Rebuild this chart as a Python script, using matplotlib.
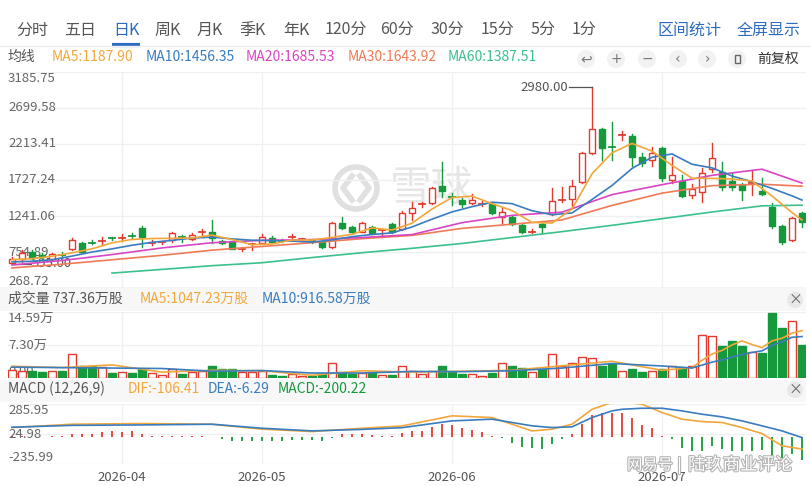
import numpy as np
import matplotlib
matplotlib.use("Agg")
import matplotlib.pyplot as plt
from matplotlib.patches import Rectangle, Circle
import matplotlib.patheffects as pe

plt.rcParams['font.family'] = ['Noto Sans CJK SC', 'DejaVu Sans']

# ---- daily candles ----
opens = [605, 656, 759, 720, 656, 720, 791, 880, 885, 895,
         945, 940, 970, 1083, 870, 880, 917, 968, 926, 1015,
         1029, 903, 903, 785, 855, 880, 948, 910, 955, 920,
         910, 890, 826, 1142, 1097, 1029, 1097, 1045, 1133, 1065,
         1286, 1400, 1421, 1646, 1500, 1457, 1412, 1400, 1403, 1231,
         1231, 1120, 1025, 1133, 1268, 1450, 1467, 1704, 2096, 2412,
         2180, 2325, 2321, 2034, 1997, 2155, 1727, 1718, 1524, 1569,
         1872, 1839, 1718, 1660, 1680, 1583, 1367, 1106, 917, 1286]
closes = [655, 745, 670, 690, 727, 712, 917, 759, 875, 906,
          935, 950, 960, 961, 880, 890, 1007, 958, 984, 1025,
          940, 872, 799, 795, 866, 961, 894, 900, 965, 930,
          898, 826, 1142, 1075, 1029, 1142, 1007, 1055, 1029, 1277,
          1345, 1410, 1615, 1583, 1493, 1403, 1457, 1410, 1277, 1299,
          1133, 1029, 1033, 1088, 1448, 1460, 1646, 2088, 2412, 2155,
          2168, 2335, 2034, 1953, 2096, 1750, 1795, 1511, 1601, 1817,
          2020, 1637, 1629, 1592, 1690, 1538, 1106, 894, 1210, 1164]
highs = [690, 782, 782, 740, 745, 759, 940, 895, 917, 952,
         961, 998, 1007, 1106, 917, 905, 1029, 984, 1015, 1061,
         1187, 915, 910, 826, 880, 998, 965, 925, 998, 950,
         925, 900, 1155, 1223, 1110, 1164, 1110, 1070, 1145, 1308,
         1430, 1434, 1637, 1974, 1548, 1480, 1538, 1447, 1415, 1345,
         1245, 1135, 1061, 1164, 1615, 1637, 1727, 2100, 2980, 2425,
         2515, 2393, 2345, 2088, 2169, 2170, 2042, 1795, 1673, 1885,
         2223, 1974, 1817, 1680, 1862, 1750, 1412, 1120, 1225, 1300]
lows = [595, 625, 656, 665, 637, 670, 782, 750, 863, 849,
        917, 907, 940, 826, 845, 865, 894, 894, 917, 961,
        872, 860, 790, 772, 782, 870, 885, 885, 940, 905,
        880, 815, 815, 1065, 1015, 1021, 995, 961, 1010, 1050,
        1187, 1367, 1403, 1502, 1390, 1358, 1400, 1376, 1265, 1151,
        1120, 1007, 1015, 1015, 1255, 1434, 1345, 1690, 2080, 2000,
        1997, 2267, 1916, 1916, 1916, 1718, 1690, 1493, 1480, 1434,
        1839, 1592, 1592, 1457, 1524, 1524, 1075, 863, 905, 1097]

# volume, in 万
volumes = [1.7, 1.45, 1.45, 1.35, 1.45, 1.45, 5.4, 2.7, 2.7, 2.5,
           1.2, 1.35, 1.2, 1.9, 1.2, 0.75, 1.9, 0.95, 1.35, 1.45,
           2.7, 1.9, 2.1, 1.35, 1.35, 1.45, 0.6, 0.45, 0.95, 0.45,
           0.45, 0.95, 3.4, 1.35, 0.95, 1.2, 1.35, 0.6, 0.6, 2.7,
           1.45, 0.95, 1.45, 2.7, 1.35, 0.95, 0.9, 0.45, 1.2, 3.3,
           2.7, 2.3, 1.35, 2.1, 5.3, 2.6, 3.4, 4.7, 4.5, 2.7,
           3.0, 1.45, 1.9, 1.35, 1.45, 2.1, 2.7, 2.5, 2.6, 9.4,
           9.2, 7.0, 8.2, 7.0, 5.8, 5.6, 14.4, 11.0, 12.6, 7.3736]

macd_hist = [5, 5, 3, 2, 5, 10, 23, 29, 29, 46,
             52, 46, 52, 29, 9, 6, 9, 6, 9, 9,
             3, -20, -35, -35, -40, -35, -35, -35, -29, -29,
             -29, -40, -10, 23, 23, 23, 17, 9, 6, 38,
             52, 52, 87, 116, 104, 75, 58, 43, 9, -6,
             -49, -84, -99, -107, -58, -20, 23, 110, 191, 209,
             209, 209, 168, 104, 81, 9, -20, -93, -122, -122,
             -78, -107, -122, -122, -122, -116, -180, -180, -151, -200.22]

# ---- moving averages read at sample candles ----
ma_fast_idx = list(range(0, 80, 2)) + [79]
ma5 = [650, 665, 697, 743, 798, 878, 925, 937, 940, 944,
       983, 924, 854, 863, 917, 917, 952, 994, 1079, 1052,
       1143, 1335, 1489, 1510, 1408, 1315, 1154, 1146, 1335, 1811,
       2094, 2221, 2117, 1926, 1751, 1749, 1741, 1714, 1511, 1288, 1187.90]
ma10 = [620, 630, 650, 700, 755, 797, 846, 886, 912, 943,
        956, 932, 914, 909, 902, 888, 918, 962, 991, 1013,
        1093, 1198, 1296, 1367, 1427, 1408, 1312, 1258, 1282, 1464,
        1653, 1883, 2035, 2079, 1940, 1891, 1781, 1704, 1614, 1513, 1456.35]

ma_slow_idx = list(range(0, 80, 5)) + [79]
ma20 = [580, 640, 720, 810, 880, 912, 922, 950, 990, 1151,
        1250, 1293, 1530, 1664, 1790, 1873, 1685.53]
ma30 = [540, 590, 650, 710, 780, 830, 880, 935, 979, 1074,
        1130, 1188, 1384, 1550, 1651, 1670, 1643.92]
ma60 = [np.nan, np.nan, 470, 520, 570, 610, 680, 745, 805, 870,
        950, 1030, 1115, 1205, 1295, 1378, 1387.51]

vol_ma_idx = [0, 5, 10, 15, 20, 25, 30, 35, 40, 45, 50, 55, 60, 65,
              68, 69, 70, 71, 72, 73, 74, 75, 76, 77, 78, 79]
vol_ma5 = [2.6, 2.3, 2.9, 1.3, 1.7, 1.6, 0.6, 1.6, 1.3, 1.5, 1.7, 2.7, 3.7, 1.7,
           2.3, 3.9, 5.3, 6.1, 7.3, 8.2, 7.4, 6.7, 8.2, 8.8, 9.9, 10.4723]
vol_ma10 = [2.4, 2.3, 2.2, 2.1, 1.5, 1.65, 1.1, 1.1, 1.45, 1.4, 1.6, 2.2, 3.2, 2.66,
            2.2, 2.85, 3.5, 4.0, 4.65, 5.2, 5.65, 6.0, 7.2, 8.0, 9.0, 9.1658]

macd_idx = [0, 6, 13, 20, 25, 30, 35, 39, 44, 48, 52, 54, 56, 58, 60, 61,
            63, 65, 67, 69, 71, 73, 75, 77, 79]
dif = [81, 110, 116, 110, 67, 46, 75, 95, 183, 168, 52, 67, 110, 240, 299, 307,
       284, 212, 154, 133, 125, 81, 29, -78, -106.41]
dea = [84, 100, 104, 110, 75, 52, 65, 80, 139, 154, 96, 81, 87, 168, 226, 240,
       249, 249, 226, 197, 174, 139, 96, 52, -6.29]

price_ticks = [3185.75, 2699.58, 2213.41, 1727.24, 1241.06, 754.89, 268.72]
vol_ticks = [14.59, 7.30, 0.00]
macd_ticks = [285.95, 24.98, -235.99]
date_idx = [11, 25, 44, 65]
date_labels = ['2026-04', '2026-05', '2026-06', '2026-07']

tabs = ['分时', '五日', '日K', '周K', '月K', '季K', '年K', '120分', '60分', '30分', '15分', '5分', '1分']

RED = '#e23a2e'
GREEN = '#16983c'
C_MA5 = '#f2a73b'
C_MA10 = '#3a7cc0'
C_MA20 = '#d846c4'
C_MA30 = '#f07a56'
C_MA60 = '#3cc08e'
GRID = '#f0f0f0'
LBL = '#666666'

opens = np.array(opens, float)
closes = np.array(closes, float)
highs = np.array(highs, float)
lows = np.array(lows, float)
n = len(closes)
up = closes >= opens

W, H = 811, 486
fig = plt.figure(figsize=(W / 100, H / 100), dpi=100)

bg = fig.add_axes([0, 0, 1, 1])
bg.set_xlim(0, W)
bg.set_ylim(H, 0)
bg.axis('off')
bg.set_zorder(-1)


def panel(y0, y1, x0=8, x1=806):
    ax = fig.add_axes([x0 / W, 1 - y1 / H, (x1 - x0) / W, (y1 - y0) / H])
    ax.set_facecolor('none')
    for s in ax.spines.values():
        s.set_visible(False)
    ax.set_xticks([])
    ax.set_yticks([])
    ax.set_xlim(-0.4, n - 0.6)
    return ax


def ylabels(ax, ticks, fmt):
    tr = ax.get_yaxis_transform()
    for k, v in enumerate(ticks):
        va = 'top' if k == 0 else ('bottom' if k == len(ticks) - 1 else 'center')
        ax.text(0, v, fmt(v), transform=tr, ha='left', va=va, fontsize=9.5,
                color=LBL, zorder=1)
        ax.axhline(v, color=GRID, lw=1, zorder=0)
    for d in date_idx:
        ax.axvline(d, color=GRID, lw=1, zorder=0)


# ---- top tabs ----
tab_x = [32, 80, 126, 168, 210, 253, 296, 346, 397, 447, 498, 543, 584]
for t, x in zip(tabs, tab_x):
    bg.text(x, 30, t, ha='center', va='center', fontsize=11.5,
            color='#2d6bc0' if t == '日K' else '#555555')
bg.plot([112, 140], [45, 45], color='#2d6bc0', lw=3, solid_capstyle='butt')
bg.text(689, 30, '区间统计', ha='center', va='center', fontsize=11.5, color='#2d6bc0')
bg.text(769, 30, '全屏显示', ha='center', va='center', fontsize=11.5, color='#2d6bc0')
bg.plot([0, W], [46.5, 46.5], color='#eeeeee', lw=1)

# ---- MA legend row ----
bg.text(8, 57, '均线', ha='left', va='center', fontsize=10, color='#555555')
for x, s, c in [(52, f'MA5:{ma5[-1]:.2f}', C_MA5), (146, f'MA10:{ma10[-1]:.2f}', C_MA10),
                (246, f'MA20:{ma20[-1]:.2f}', C_MA20), (348, f'MA30:{ma30[-1]:.2f}', C_MA30),
                (448, f'MA60:{ma60[-1]:.2f}', C_MA60)]:
    bg.text(x, 57, s, ha='left', va='center', fontsize=10, color=c)
for x, g in zip([586, 616, 647, 678, 707, 737], ['↩', '+', '−', '‹', '›', '']):
    bg.add_patch(Circle((x, 59), 9, color='#f2f2f2', lw=0))
    if g:
        bg.text(x, 59, g, ha='center', va='center', fontsize=10, color='#777777',
                family='DejaVu Sans')
bg.add_patch(Rectangle((734.5, 55), 5, 8, fill=False, ec='#666666', lw=1))
bg.plot([737, 737], [52, 66], color='#666666', lw=1, zorder=0)
bg.text(757, 59, '前复权', ha='left', va='center', fontsize=10, color='#333333')

# ---- watermark ----
bg.add_patch(Circle((356, 188), 21, fill=False, ec='#e0e0e0', lw=4))
bg.plot([352, 343, 352], [176, 188, 200], color='#e0e0e0', lw=4)
bg.plot([360, 369, 360], [176, 188, 200], color='#e0e0e0', lw=4)
bg.text(390, 189, '雪球', ha='left', va='center', fontsize=30, color='#e6e6e6')

# ---- header bands ----
bg.add_patch(Rectangle((0, 287), 806, 24, color='#f7f7f7', lw=0))
bg.add_patch(Rectangle((0, 380), 806, 22, color='#f7f7f7', lw=0))
for yy in (300, 390):
    bg.add_patch(Circle((795, yy), 8, color='#e8e8e8', lw=0))
    bg.text(795, yy, '×', ha='center', va='center', fontsize=10, color='#666666')

bg.text(8, 299, f'成交量 {volumes[-1] * 100:.2f}万股', ha='left', va='center',
        fontsize=10, color='#555555')
bg.text(140, 299, f'MA5:{vol_ma5[-1] * 100:.2f}万股', ha='left', va='center',
        fontsize=10, color=C_MA5)
bg.text(262, 299, f'MA10:{vol_ma10[-1] * 100:.2f}万股', ha='left', va='center',
        fontsize=10, color=C_MA10)
bg.text(8, 389, 'MACD (12,26,9)', ha='left', va='center', fontsize=10, color='#555555')
bg.text(128, 389, f'DIF:{dif[-1]:.2f}', ha='left', va='center', fontsize=10, color=C_MA5)
bg.text(208, 389, f'DEA:{dea[-1]:.2f}', ha='left', va='center', fontsize=10, color=C_MA10)
bg.text(278, 389, f'MACD:{macd_hist[-1]:.2f}', ha='left', va='center', fontsize=10,
        color=GREEN)

# ---- price panel ----
ax = panel(72, 288)
ax.set_ylim(price_ticks[-1], price_ticks[0])
ylabels(ax, price_ticks, lambda v: f'{v:.2f}')

for i in range(n):
    o, c, h, l = opens[i], closes[i], highs[i], lows[i]
    col = RED if up[i] else GREEN
    lo, hi = min(o, c), max(o, c)
    ax.plot([i, i], [hi, h], color=col, lw=1, zorder=2)
    ax.plot([i, i], [l, lo], color=col, lw=1, zorder=2)
    if hi - lo < 20:
        ax.plot([i - 0.33, i + 0.33], [(o + c) / 2] * 2, color=col, lw=1.3, zorder=2)
    else:
        ax.add_patch(Rectangle((i - 0.34, lo), 0.68, hi - lo,
                               facecolor='white' if up[i] else col,
                               edgecolor=col, lw=1, zorder=2))

ax.plot(ma_slow_idx, ma60, color=C_MA60, lw=1.2, zorder=3)
ax.plot(ma_slow_idx, ma30, color=C_MA30, lw=1.2, zorder=3)
ax.plot(ma_slow_idx, ma20, color=C_MA20, lw=1.2, zorder=3)
ax.plot(ma_fast_idx, ma10, color=C_MA10, lw=1.2, zorder=3)
ax.plot(ma_fast_idx, ma5, color=C_MA5, lw=1.2, zorder=3)

imax = int(np.argmax(highs))
ax.plot([imax - 2.3, imax], [highs[imax]] * 2, color='#555555', lw=0.9, zorder=2)
ax.text(imax - 2.35, highs[imax], f'{highs[imax]:.2f}', ha='right', va='center',
        fontsize=9.5, color='#555555')
imin = int(np.argmin(lows))
ax.plot([imin, imin + 1.9], [lows[imin]] * 2, color='#555555', lw=0.9, zorder=2)
ax.text(imin + 1.95, lows[imin], f'{lows[imin]:.2f}', ha='left', va='center',
        fontsize=9.5, color='#555555', zorder=1)

# ---- volume panel ----
av = panel(312, 378)
av.set_ylim(0, vol_ticks[0])
ylabels(av, vol_ticks, lambda v: '0.00' if v == 0 else f'{v:.2f}万')
for i in range(n):
    col = RED if up[i] else GREEN
    av.add_patch(Rectangle((i - 0.36, 0), 0.72, volumes[i],
                           facecolor='white' if up[i] else col,
                           edgecolor=col, lw=1, zorder=2))
av.plot(vol_ma_idx, vol_ma5, color=C_MA5, lw=1.2, zorder=3)
av.plot(vol_ma_idx, vol_ma10, color=C_MA10, lw=1.2, zorder=3)

# ---- MACD panel ----
am = panel(404, 464)
am.set_ylim(macd_ticks[-1], macd_ticks[0])
ylabels(am, macd_ticks, lambda v: f'{v:.2f}')
hist = np.array(macd_hist)
am.vlines(np.arange(n), 0, hist, colors=[RED if v >= 0 else GREEN for v in hist],
          lw=1.3, zorder=2)
am.plot(macd_idx, dif, color=C_MA5, lw=1.2, zorder=3)
am.plot(macd_idx, dea, color=C_MA10, lw=1.2, zorder=3)
for d, s in zip(date_idx, date_labels):
    am.text(d, -0.22, s, transform=am.get_xaxis_transform(), ha='center',
            va='center', fontsize=9.5, color='#555555')

# ---- source watermark (overlaps the last date label, as in the original) ----
halo = [pe.withStroke(linewidth=1.6, foreground='#b5b5b5')]
fig.text(627 / W, 1 - 465 / H, '网易号', ha='left', va='center', fontsize=11,
         color='white', path_effects=halo)
fig.text(680 / W, 1 - 465 / H, '|', ha='center', va='center', fontsize=11,
         color='white', path_effects=halo)
fig.text(688 / W, 1 - 465 / H, '陆玖商业评论', ha='left', va='center', fontsize=12.5,
         color='white', path_effects=halo)

fig.savefig('out.png', dpi=100)
